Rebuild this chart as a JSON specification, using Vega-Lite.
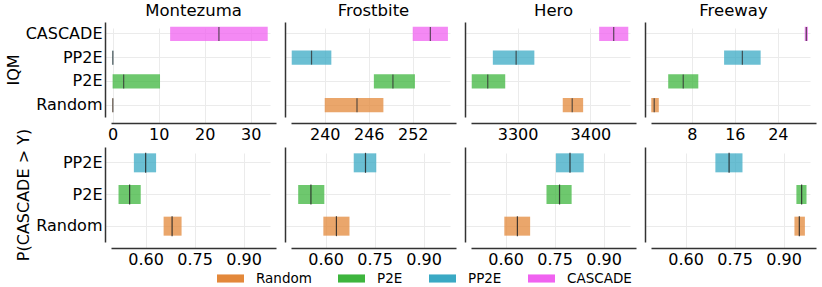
{
  "$schema": "https://vega.github.io/schema/vega-lite/v6.json",
  "background": "white",
  "padding": {"left": 5, "top": 2, "right": 2, "bottom": 2},
  "datasets": {
    "iqm": [
      {"game": "Montezuma", "method": "CASCADE", "lo": 12.5, "hi": 33.7, "med": 23.1},
      {"game": "Montezuma", "method": "PP2E", "lo": 0, "hi": 0.12, "med": 0.05},
      {"game": "Montezuma", "method": "P2E", "lo": 0, "hi": 10.3, "med": 2.4},
      {"game": "Montezuma", "method": "Random", "lo": 0, "hi": 0.1, "med": 0.05},
      {"game": "Frostbite", "method": "CASCADE", "lo": 252.0, "hi": 256.8, "med": 254.4},
      {"game": "Frostbite", "method": "PP2E", "lo": 235.5, "hi": 240.9, "med": 238.2},
      {"game": "Frostbite", "method": "P2E", "lo": 246.7, "hi": 252.3, "med": 249.3},
      {"game": "Frostbite", "method": "Random", "lo": 240.0, "hi": 248.0, "med": 244.4},
      {"game": "Hero", "method": "CASCADE", "lo": 3412, "hi": 3452, "med": 3432},
      {"game": "Hero", "method": "PP2E", "lo": 3266, "hi": 3323, "med": 3298},
      {"game": "Hero", "method": "P2E", "lo": 3237, "hi": 3283, "med": 3259},
      {"game": "Hero", "method": "Random", "lo": 3362, "hi": 3390, "med": 3375},
      {"game": "Freeway", "method": "CASCADE", "lo": 29.0, "hi": 29.6, "med": 29.3},
      {"game": "Freeway", "method": "PP2E", "lo": 14.0, "hi": 20.8, "med": 17.4},
      {"game": "Freeway", "method": "P2E", "lo": 3.6, "hi": 9.2, "med": 6.4},
      {"game": "Freeway", "method": "Random", "lo": 0.45, "hi": 1.85, "med": 1.0}
    ],
    "prob": [
      {"game": "Montezuma", "method": "PP2E", "lo": 0.564, "hi": 0.632, "med": 0.600},
      {"game": "Montezuma", "method": "P2E", "lo": 0.517, "hi": 0.585, "med": 0.551},
      {"game": "Montezuma", "method": "Random", "lo": 0.655, "hi": 0.710, "med": 0.681},
      {"game": "Frostbite", "method": "PP2E", "lo": 0.686, "hi": 0.755, "med": 0.722},
      {"game": "Frostbite", "method": "P2E", "lo": 0.516, "hi": 0.596, "med": 0.555},
      {"game": "Frostbite", "method": "Random", "lo": 0.593, "hi": 0.673, "med": 0.633},
      {"game": "Hero", "method": "PP2E", "lo": 0.754, "hi": 0.839, "med": 0.797},
      {"game": "Hero", "method": "P2E", "lo": 0.725, "hi": 0.802, "med": 0.765},
      {"game": "Hero", "method": "Random", "lo": 0.596, "hi": 0.675, "med": 0.636},
      {"game": "Freeway", "method": "PP2E", "lo": 0.691, "hi": 0.774, "med": 0.733},
      {"game": "Freeway", "method": "P2E", "lo": 0.939, "hi": 0.970, "med": 0.955},
      {"game": "Freeway", "method": "Random", "lo": 0.933, "hi": 0.965, "med": 0.948}
    ]
  },
  "spacing": -14,
  "vconcat": [
    {
      "bounds": "flush",
      "spacing": 15,
      "hconcat": [
        {
          "data": {"name": "iqm"},
          "transform": [{"filter": "datum.game === 'Montezuma'"}],
          "title": "Montezuma",
          "width": 165, "height": 95,
          "encoding": {
            "y": {"field": "method", "type": "nominal", "scale": {"domain": ["CASCADE", "PP2E", "P2E", "Random"], "paddingInner": 0.4, "paddingOuter": 0.2}, "axis": {"title": "IQM", "grid": true, "bandPosition": 0.5}}
          },
          "layer": [
            {"mark": {"type": "bar", "opacity": 0.75}, "encoding": {"x": {"field": "lo", "type": "quantitative", "scale": {"domain": [-0.35, 35.5], "nice": false, "zero": false}, "axis": {"values": [0, 10, 20, 30], "title": null}}, "x2": {"field": "hi"}, "color": {"field": "method", "type": "nominal", "scale": {"domain": ["Random", "P2E", "PP2E", "CASCADE"], "range": ["#e3883a", "#3db53d", "#3aa9c4", "#f062f0"]}, "legend": {"title": null}}}},
            {"mark": {"type": "tick", "color": "#333", "thickness": 1.2, "size": 14, "opacity": 0.8}, "encoding": {"x": {"field": "med", "type": "quantitative"}}}
          ]
        },
        {
          "data": {"name": "iqm"},
          "transform": [{"filter": "datum.game === 'Frostbite'"}],
          "title": "Frostbite",
          "width": 165, "height": 95,
          "encoding": {
            "y": {"field": "method", "type": "nominal", "scale": {"domain": ["CASCADE", "PP2E", "P2E", "Random"], "paddingInner": 0.4, "paddingOuter": 0.2}, "axis": {"title": null, "labels": false, "grid": true, "bandPosition": 0.5}}
          },
          "layer": [
            {"mark": {"type": "bar", "opacity": 0.75}, "encoding": {"x": {"field": "lo", "type": "quantitative", "scale": {"domain": [235.4, 257.9], "nice": false, "zero": false}, "axis": {"values": [240, 246, 252], "title": null}}, "x2": {"field": "hi"}, "color": {"field": "method", "type": "nominal"}}},
            {"mark": {"type": "tick", "color": "#333", "thickness": 1.2, "size": 14, "opacity": 0.8}, "encoding": {"x": {"field": "med", "type": "quantitative"}}}
          ]
        },
        {
          "data": {"name": "iqm"},
          "transform": [{"filter": "datum.game === 'Hero'"}],
          "title": "Hero",
          "width": 165, "height": 95,
          "encoding": {
            "y": {"field": "method", "type": "nominal", "scale": {"domain": ["CASCADE", "PP2E", "P2E", "Random"], "paddingInner": 0.4, "paddingOuter": 0.2}, "axis": {"title": null, "labels": false, "grid": true, "bandPosition": 0.5}}
          },
          "layer": [
            {"mark": {"type": "bar", "opacity": 0.75}, "encoding": {"x": {"field": "lo", "type": "quantitative", "scale": {"domain": [3236, 3462.6], "nice": false, "zero": false}, "axis": {"values": [3300, 3400], "title": null, "format": "d"}}, "x2": {"field": "hi"}, "color": {"field": "method", "type": "nominal"}}},
            {"mark": {"type": "tick", "color": "#333", "thickness": 1.2, "size": 14, "opacity": 0.8}, "encoding": {"x": {"field": "med", "type": "quantitative"}}}
          ]
        },
        {
          "data": {"name": "iqm"},
          "transform": [{"filter": "datum.game === 'Freeway'"}],
          "title": "Freeway",
          "width": 165, "height": 95,
          "encoding": {
            "y": {"field": "method", "type": "nominal", "scale": {"domain": ["CASCADE", "PP2E", "P2E", "Random"], "paddingInner": 0.4, "paddingOuter": 0.2}, "axis": {"title": null, "labels": false, "grid": true, "bandPosition": 0.5}}
          },
          "layer": [
            {"mark": {"type": "bar", "opacity": 0.75}, "encoding": {"x": {"field": "lo", "type": "quantitative", "scale": {"domain": [0.4, 31.1], "nice": false, "zero": false}, "axis": {"values": [8, 16, 24], "title": null}}, "x2": {"field": "hi"}, "color": {"field": "method", "type": "nominal"}}},
            {"mark": {"type": "tick", "color": "#333", "thickness": 1.2, "size": 14, "opacity": 0.8}, "encoding": {"x": {"field": "med", "type": "quantitative"}}}
          ]
        }
      ]
    },
    {
      "bounds": "flush",
      "spacing": 15,
      "hconcat": [
        {
          "data": {"name": "prob"},
          "transform": [{"filter": "datum.game === 'Montezuma'"}],
          "width": 165, "height": 95,
          "encoding": {
            "y": {"field": "method", "type": "nominal", "scale": {"domain": ["PP2E", "P2E", "Random"], "paddingInner": 0.4, "paddingOuter": 0.2}, "axis": {"title": "P(CASCADE > Y)", "grid": true, "bandPosition": 0.5}}
          },
          "layer": [
            {"mark": {"type": "bar", "opacity": 0.75}, "encoding": {"x": {"field": "lo", "type": "quantitative", "scale": {"domain": [0.494, 0.999], "nice": false, "zero": false}, "axis": {"values": [0.6, 0.75, 0.9], "format": ".2f", "title": null}}, "x2": {"field": "hi"}, "color": {"field": "method", "type": "nominal"}}},
            {"mark": {"type": "tick", "color": "#222", "thickness": 1.2, "size": 20, "opacity": 0.85}, "encoding": {"x": {"field": "med", "type": "quantitative"}}}
          ]
        },
        {
          "data": {"name": "prob"},
          "transform": [{"filter": "datum.game === 'Frostbite'"}],
          "width": 165, "height": 95,
          "encoding": {
            "y": {"field": "method", "type": "nominal", "scale": {"domain": ["PP2E", "P2E", "Random"], "paddingInner": 0.4, "paddingOuter": 0.2}, "axis": {"title": null, "labels": false, "grid": true, "bandPosition": 0.5}}
          },
          "layer": [
            {"mark": {"type": "bar", "opacity": 0.75}, "encoding": {"x": {"field": "lo", "type": "quantitative", "scale": {"domain": [0.494, 0.999], "nice": false, "zero": false}, "axis": {"values": [0.6, 0.75, 0.9], "format": ".2f", "title": null}}, "x2": {"field": "hi"}, "color": {"field": "method", "type": "nominal"}}},
            {"mark": {"type": "tick", "color": "#222", "thickness": 1.2, "size": 20, "opacity": 0.85}, "encoding": {"x": {"field": "med", "type": "quantitative"}}}
          ]
        },
        {
          "data": {"name": "prob"},
          "transform": [{"filter": "datum.game === 'Hero'"}],
          "width": 165, "height": 95,
          "encoding": {
            "y": {"field": "method", "type": "nominal", "scale": {"domain": ["PP2E", "P2E", "Random"], "paddingInner": 0.4, "paddingOuter": 0.2}, "axis": {"title": null, "labels": false, "grid": true, "bandPosition": 0.5}}
          },
          "layer": [
            {"mark": {"type": "bar", "opacity": 0.75}, "encoding": {"x": {"field": "lo", "type": "quantitative", "scale": {"domain": [0.494, 0.999], "nice": false, "zero": false}, "axis": {"values": [0.6, 0.75, 0.9], "format": ".2f", "title": null}}, "x2": {"field": "hi"}, "color": {"field": "method", "type": "nominal"}}},
            {"mark": {"type": "tick", "color": "#222", "thickness": 1.2, "size": 20, "opacity": 0.85}, "encoding": {"x": {"field": "med", "type": "quantitative"}}}
          ]
        },
        {
          "data": {"name": "prob"},
          "transform": [{"filter": "datum.game === 'Freeway'"}],
          "width": 165, "height": 95,
          "encoding": {
            "y": {"field": "method", "type": "nominal", "scale": {"domain": ["PP2E", "P2E", "Random"], "paddingInner": 0.4, "paddingOuter": 0.2}, "axis": {"title": null, "labels": false, "grid": true, "bandPosition": 0.5}}
          },
          "layer": [
            {"mark": {"type": "bar", "opacity": 0.75}, "encoding": {"x": {"field": "lo", "type": "quantitative", "scale": {"domain": [0.494, 0.999], "nice": false, "zero": false}, "axis": {"values": [0.6, 0.75, 0.9], "format": ".2f", "title": null}}, "x2": {"field": "hi"}, "color": {"field": "method", "type": "nominal"}}},
            {"mark": {"type": "tick", "color": "#222", "thickness": 1.2, "size": 20, "opacity": 0.85}, "encoding": {"x": {"field": "med", "type": "quantitative"}}}
          ]
        }
      ]
    }
  ],
  "resolve": {"scale": {"color": "shared"}},
  "config": {
    "font": "DejaVu Sans",
    "view": {"stroke": null},
    "axis": {
      "domainColor": "#333",
      "domainWidth": 1.5,
      "ticks": false,
      "labelFont": "DejaVu Sans",
      "labelFontSize": 16,
      "labelColor": "#000",
      "labelPadding": 3,
      "gridColor": "#ebebeb",
      "gridWidth": 1,
      "offset": 6,
      "titleFont": "DejaVu Sans",
      "titleFontSize": 16,
      "titleFontWeight": "normal",
      "titleColor": "#000",
      "titlePadding": 4
    },
    "title": {"font": "DejaVu Sans", "fontSize": 16.5, "fontWeight": "normal", "color": "#000", "offset": 3},
    "bar": {"stroke": null},
    "legend": {
      "orient": "none",
      "legendX": 106,
      "legendY": 243,
      "direction": "horizontal",
      "columns": 4,
      "columnPadding": 26,
      "labelFont": "DejaVu Sans",
      "labelFontSize": 13.5,
      "labelColor": "#000",
      "labelOffset": 12,
      "symbolType": "M-1,-0.3H1V0.3H-1Z",
      "symbolSize": 729,
      "symbolStrokeWidth": 0,
      "symbolOpacity": 1
    }
  }
}
